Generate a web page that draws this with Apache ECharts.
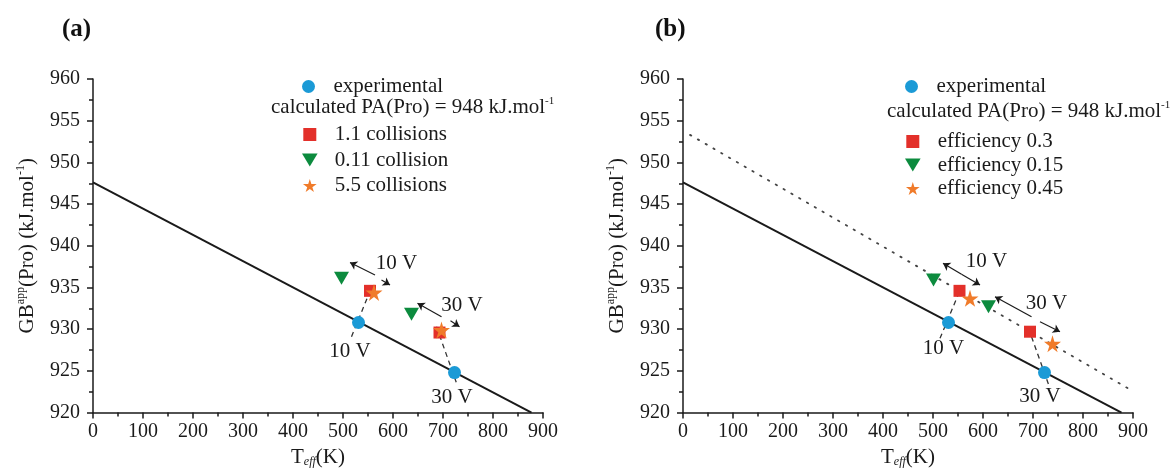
<!DOCTYPE html>
<html>
<head>
<meta charset="utf-8">
<script src="https://cdn.jsdelivr.net/npm/echarts@6/dist/echarts.min.js"></script>
<style>html,body{margin:0;padding:0;background:#fff}#chart{width:1175px;height:473px}</style>
</head>
<body>
<div id="chart"></div>
<script>
// fitted line (solid) and shifted line of panel (b) (dotted)
var fitT = [0, 877], fitGB = [947.6, 920];
var bDotT = [14, 893], bDotGB = [953.3, 922.8];

// experimental points (same in both panels)
var expT = [531, 723], expGB = [930.8, 924.8];

// panel (a): collisions
var aSquareT = [554, 693], aSquareGB = [934.6, 929.6];
var aTriT = [497, 637], aTriGB = [936.1, 931.8];
var aStarT = [562, 697], aStarGB = [934.4, 929.9];

// panel (b): efficiency
var bSquareT = [553, 694], bSquareGB = [934.6, 929.7];
var bTriT = [501, 611], bTriGB = [935.9, 932.7];
var bStarT = [574, 739], bStarGB = [933.7, 928.25];

// dashed guides [T1, GB1, T2, GB2]
var aGuides = [[517, 929.1, 557, 935.0], [687, 930.3, 729, 923.2]];
var bGuides = [[514, 928.9, 557, 935.1], [691, 930.1, 731, 923.4]];

// arrows [fromT, fromGB, toT, toGB]
var aArrows = [[564, 936.5, 514, 938.0], [577, 935.9, 594, 935.3], [697, 931.5, 649, 933.1], [715, 931.0, 733, 930.3]];
var bArrows = [[557, 936.6, 520, 937.9], [557, 936.6, 594, 935.3], [697, 931.5, 624, 933.9], [714, 930.9, 754, 929.7]];

// voltage notes
var noteText = ['10 V', '30 V', '10 V', '30 V'];
var aNoteT = [607, 738, 514, 718], aNoteGB = [937.9, 932.9, 927.3, 921.8];
var bNoteT = [607, 727, 521, 714], bNoteGB = [938.1, 933.1, 927.7, 921.9];

var aNames = ['1.1 collisions', '0.11 collision', '5.5 collisions'];
var bNames = ['efficiency 0.3', 'efficiency 0.15', 'efficiency 0.45'];

var F = "'Liberation Serif', 'Times New Roman', serif";
var C = { exp: '#1b9ad6', sq: '#e3302a', tri: '#0c8b3e', star: '#f07b2a', ink: '#1a1a1a' };
var SQ = 'path://M0,0L10,0L10,10L0,10Z';
var TRI = 'path://M0,0L12,0L6,10Z';
var STAR = 'path://M50,0L61,35L98,35L68,57L79,91L50,70L21,91L32,57L2,35L39,35Z';

function pts(xs, ys) {
    return xs.map(function (x, i) { return [x, ys[i]]; });
}

function xAxis(i) {
    return {
        type: 'value', gridIndex: i, min: 0, max: 900, interval: 100,
        name: '{a|T}{b|eff}{a|(K)}', nameLocation: 'middle', nameGap: 32,
        nameTextStyle: { rich: {
            a: { fontFamily: F, fontSize: 21, color: C.ink, lineHeight: 22 },
            b: { fontFamily: F, fontSize: 12, fontStyle: 'italic', color: C.ink, verticalAlign: 'bottom', lineHeight: 12 }
        } },
        axisLine: { lineStyle: { color: C.ink, width: 1.5 } },
        axisTick: { length: 6, lineStyle: { color: C.ink, width: 1.5 } },
        minorTick: { show: true, splitNumber: 2, length: 4, lineStyle: { color: C.ink, width: 1.5 } },
        axisLabel: { fontFamily: F, fontSize: 20, color: C.ink, margin: 9 },
        splitLine: { show: false }
    };
}

function yAxis(i) {
    return {
        type: 'value', gridIndex: i, min: 920, max: 960, interval: 5,
        name: '{a|GB}{s|app}{a|(Pro) (kJ.mol}{s|-1}{a|)}', nameLocation: 'middle', nameGap: 54, nameRotate: 90,
        nameTextStyle: { rich: {
            a: { fontFamily: F, fontSize: 21, color: C.ink, lineHeight: 24 },
            s: { fontFamily: F, fontSize: 12, color: C.ink, verticalAlign: 'top', lineHeight: 12 }
        } },
        axisLine: { lineStyle: { color: C.ink, width: 1.5 } },
        axisTick: { length: 6, lineStyle: { color: C.ink, width: 1.5 } },
        minorTick: { show: true, splitNumber: 2, length: 4, lineStyle: { color: C.ink, width: 1.5 } },
        axisLabel: { fontFamily: F, fontSize: 20, color: C.ink, margin: 13 },
        splitLine: { show: false }
    };
}

function dots(name, i, xs, ys, symbol, size, color, z) {
    return { type: 'scatter', name: name, xAxisIndex: i, yAxisIndex: i, data: pts(xs, ys),
        symbol: symbol, symbolSize: size, itemStyle: { color: color, opacity: 1 }, z: z };
}

function panelSeries(i, names, sq, tri, star, guides, arrows, notes) {
    var s = [];
    s.push({ type: 'line', xAxisIndex: i, yAxisIndex: i, data: pts(fitT, fitGB), symbol: 'none', silent: true, z: 2,
        lineStyle: { color: C.ink, width: 2 } });
    guides.forEach(function (g) {
        s.push({ type: 'line', xAxisIndex: i, yAxisIndex: i, data: [[g[0], g[1]], [g[2], g[3]]], symbol: 'none', silent: true, z: 2,
            lineStyle: { color: '#333', width: 1.3, type: [5, 4] } });
    });
    s.push(dots('experimental', i, expT, expGB, 'circle', 13, C.exp, 5));
    s.push(dots(names[0], i, sq[0], sq[1], SQ, 12, C.sq, 5));
    s.push(dots(names[1], i, tri[0], tri[1], TRI, [15, 13], C.tri, 5));
    s.push(dots(names[2], i, star[0], star[1], STAR, 17, C.star, 6));
    s.push({
        type: 'scatter', xAxisIndex: i, yAxisIndex: i, symbolSize: 0, silent: true, z: 4,
        itemStyle: { opacity: 1 },
        data: notes[0].map(function (x, k) { return [x, notes[1][k], noteText[k]]; }),
        label: { show: true, position: 'inside', formatter: function (p) { return p.value[2]; },
            fontFamily: F, fontSize: 21, color: C.ink, opacity: 1 },
        markLine: {
            silent: true, symbol: ['none', 'arrow'], symbolSize: 7, animation: false,
            lineStyle: { color: C.ink, width: 1.2, type: 'solid' }, label: { show: false },
            data: arrows.map(function (a) { return [{ coord: [a[0], a[1]] }, { coord: [a[2], a[3]] }]; })
        }
    });
    return s;
}

var series = [].concat(
    panelSeries(0, aNames, [aSquareT, aSquareGB], [aTriT, aTriGB], [aStarT, aStarGB], aGuides, aArrows, [aNoteT, aNoteGB]),
    panelSeries(1, bNames, [bSquareT, bSquareGB], [bTriT, bTriGB], [bStarT, bStarGB], bGuides, bArrows, [bNoteT, bNoteGB])
);
series.push({ type: 'line', xAxisIndex: 1, yAxisIndex: 1, data: pts(bDotT, bDotGB), symbol: 'none', silent: true, z: 2,
    lineStyle: { color: '#444', width: 1.8, type: [1.5, 7.5], cap: 'round' } });

var legendBase = {
    orient: 'vertical', itemWidth: 40, itemHeight: 13, selectedMode: false,
    textStyle: { fontFamily: F, fontSize: 21, color: C.ink, lineHeight: 20 }
};
function legend(data, left, top, gap) {
    return Object.assign({}, legendBase, { data: data, left: left, top: top, itemGap: gap });
}

var calcRich = {
    a: { fontFamily: F, fontSize: 21, fill: C.ink, lineHeight: 22 },
    s: { fontFamily: F, fontSize: 11, fill: C.ink, verticalAlign: 'top', lineHeight: 11 }
};

var option = {
    backgroundColor: '#fff',
    animation: false,
    title: [
        { text: '(a)', left: 57, top: 12, textStyle: { fontFamily: F, fontSize: 25, fontWeight: 'bold', color: '#111' } },
        { text: '(b)', left: 650, top: 12, textStyle: { fontFamily: F, fontSize: 25, fontWeight: 'bold', color: '#111' } }
    ],
    grid: [
        { left: 93, top: 79, width: 450, height: 336 },
        { left: 683, top: 79, width: 450, height: 336 }
    ],
    xAxis: [xAxis(0), xAxis(1)],
    yAxis: [yAxis(0), yAxis(1)],
    legend: [
        legend(['experimental'], 297, 71, 0),
        legend(aNames, 297, 119, 4.5),
        legend(['experimental'], 900, 71, 0),
        legend(bNames, 900, 126, 2.5)
    ],
    graphic: [
        { type: 'text', left: 271, top: 96, style: { text: '{a|calculated PA(Pro) = 948 kJ.mol}{s|-1}', rich: calcRich } },
        { type: 'text', left: 887, top: 100, style: { text: '{a|calculated PA(Pro) = 948 kJ.mol}{s|-1}', rich: calcRich } }
    ],
    series: series
};

var chart = echarts.init(document.getElementById('chart'));
chart.setOption(option);
window.onresize = chart.resize;
</script>
</body>
</html>
